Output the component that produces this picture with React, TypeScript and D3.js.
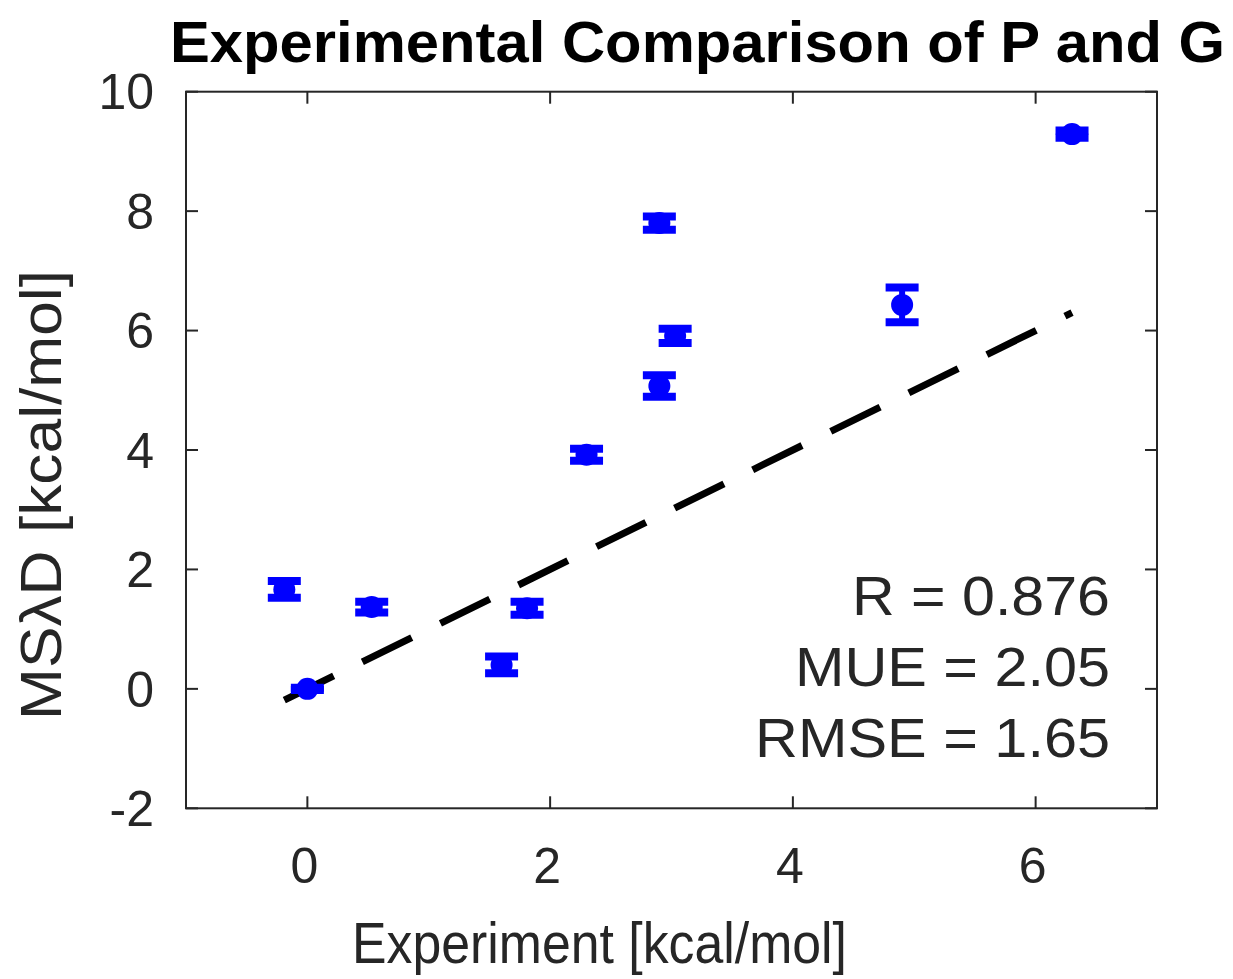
import React from 'react';
import * as d3 from 'd3';

const expValues = [-0.19, 0.0, 0.53, 1.6, 1.81, 2.3, 2.9, 2.9, 3.03, 4.9, 6.3];
const calcValues = [1.665, 0.0, 1.37, 0.4, 1.35, 3.92, 7.8, 5.07, 5.91, 6.43, 9.29];
const calcErrors = [0.14, 0.02, 0.09, 0.14, 0.11, 0.1, 0.11, 0.18, 0.12, 0.29, 0.06];

const xTicks = [0, 2, 4, 6];
const yTicks = [-2, 0, 2, 4, 6, 8, 10];
const statsLines = ['R = 0.876', 'MUE = 2.05', 'RMSE = 1.65'];

const W = 1233;
const H = 979;
const ink = '#262626';
const blue = '#0000ff';
const font = '"Liberation Sans", Arial, Helvetica, sans-serif';

export default function App() {
  const x = d3.scaleLinear().domain([-1, 7]).range([186, 1157]);
  const y = d3.scaleLinear().domain([-2, 10]).range([808.3, 91.7]);

  const [x0, x1] = x.range();
  const [yb, yt] = y.range();
  const tickLen = 12;

  const lo = d3.min(expValues) as number;
  const hi = d3.max(expValues) as number;
  const diag = d3.line<number>().x(d => x(d)).y(d => y(d))([lo, hi]) || '';

  const capW = 33;
  const statLens = [258, 315, 355];

  return (
    <svg width={W} height={H} style={{ position: 'absolute', left: 0, top: 0, background: '#fff' }}
      fontFamily={font}>
      {/* title */}
      <text x={170} y={62} fontSize={58} fontWeight="bold" fill="#000"
        textLength={1055} lengthAdjust="spacingAndGlyphs">
        Experimental Comparison of P and G
      </text>

      {/* y = x reference line */}
      <path d={diag} fill="none" stroke="#000" strokeWidth={7} strokeDasharray="55 32" />

      {/* error bars + markers */}
      {expValues.map((ev, i) => {
        const cx = x(ev);
        const top = y(calcValues[i] + calcErrors[i]);
        const bot = y(calcValues[i] - calcErrors[i]);
        return (
          <g key={i}>
            <line x1={cx} x2={cx} y1={top} y2={bot} stroke={blue} strokeWidth={6} />
            <line x1={cx - capW / 2} x2={cx + capW / 2} y1={top} y2={top} stroke={blue} strokeWidth={8} />
            <line x1={cx - capW / 2} x2={cx + capW / 2} y1={bot} y2={bot} stroke={blue} strokeWidth={8} />
            <circle cx={cx} cy={y(calcValues[i])} r={11} fill={blue} />
          </g>
        );
      })}

      {/* frame */}
      <rect x={x0} y={yt} width={x1 - x0} height={yb - yt} fill="none" stroke={ink} strokeWidth={2} />

      {/* x ticks (bottom and top, inward) */}
      {xTicks.map(t => (
        <g key={'x' + t}>
          <line x1={x(t)} x2={x(t)} y1={yb} y2={yb - tickLen} stroke={ink} strokeWidth={2} />
          <line x1={x(t)} x2={x(t)} y1={yt} y2={yt + tickLen} stroke={ink} strokeWidth={2} />
          <text x={x(t) - 3} y={883} fontSize={50} fill={ink} textAnchor="middle">{t}</text>
        </g>
      ))}

      {/* y ticks (left and right, inward) */}
      {yTicks.map(t => (
        <g key={'y' + t}>
          <line x1={x0} x2={x0 + tickLen} y1={y(t)} y2={y(t)} stroke={ink} strokeWidth={2} />
          <line x1={x1} x2={x1 - tickLen} y1={y(t)} y2={y(t)} stroke={ink} strokeWidth={2} />
          <text x={154} y={y(t)} dy="0.355em" fontSize={50} fill={ink} textAnchor="end">{t}</text>
        </g>
      ))}

      {/* axis labels */}
      <text x={352} y={963} fontSize={57} fill={ink}
        textLength={495} lengthAdjust="spacingAndGlyphs">
        Experiment [kcal/mol]
      </text>
      <text transform="translate(61,495) rotate(-90)" x={0} y={0} fontSize={58} fill={ink}
        textAnchor="middle" textLength={450} lengthAdjust="spacingAndGlyphs">
        MSλD [kcal/mol]
      </text>

      {/* stats */}
      {statsLines.map((s, i) => (
        <text key={s} x={1110} y={615 + i * 71} fontSize={56} fill={ink} textAnchor="end"
          textLength={statLens[i]} lengthAdjust="spacingAndGlyphs">
          {s}
        </text>
      ))}
    </svg>
  );
}
